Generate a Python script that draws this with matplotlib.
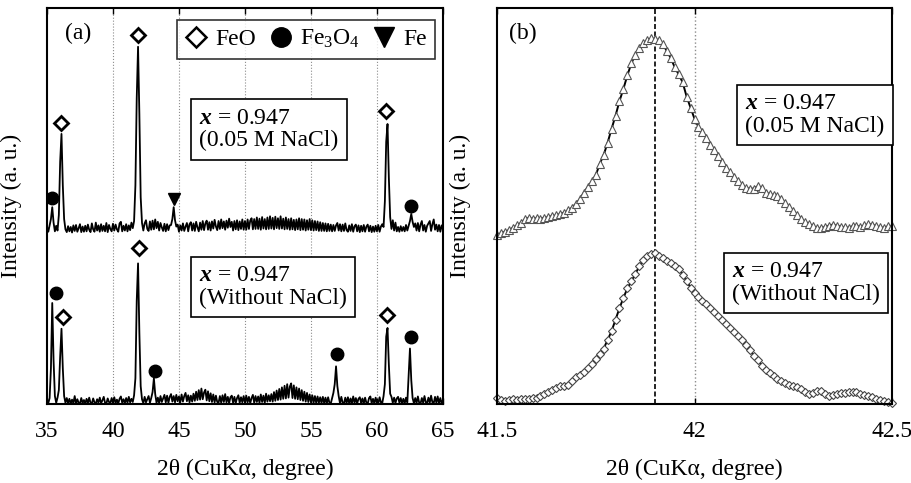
import numpy as np
import matplotlib
matplotlib.use("Agg")
import matplotlib.pyplot as plt
from matplotlib.lines import Line2D

plt.rcParams['font.family'] = ['Liberation Serif', 'DejaVu Serif']
plt.rcParams['mathtext.fontset'] = 'custom'
plt.rcParams['mathtext.rm'] = 'Liberation Serif'
plt.rcParams['mathtext.it'] = 'Liberation Serif:italic'
plt.rcParams['mathtext.bf'] = 'Liberation Serif:bold'
try:
    plt.rcParams['mathtext.bfit'] = 'Liberation Serif:italic:bold'
    x_label = r'$\mathbfit{x}$ = 0.947'
except KeyError:
    x_label = r'$\mathit{x}$ = 0.947'

# (a) wide scan, 35-65 deg, step 0.1 deg (intensities relative to own baseline)
two_theta_a = np.round(np.arange(35.0, 65.05, 0.1), 1)

nacl_a = [
    1.6, 0.3, 1.9, 3.5, 6.5, 2.6, 0.4, 1.8, 0.6, 4.5,
    18.0, 25.0, 12.0, 3.5, 0.9, 0.2, 1.7, 0.4, 1.5, 0.1,
    1.9, 0.5, 2.0, 0.3, 1.2, 2.2, 0.2, 1.6, 0.3, 1.8,
    0.4, 2.1, 0.8, 0.2, 2.4, 0.9, 0.3, 2.6, 0.6, 1.9,
    0.3, 2.2, 0.5, 1.8, 0.4, 2.5, 0.2, 2.0, 1.0, 0.4,
    2.3, 0.6, 2.1, 0.9, 0.3, 2.4, 2.8, 0.4, 1.8, 0.6,
    2.2, 0.4, 1.9, 0.7, 2.6, 1.2, 3.0, 12.0, 34.0, 47.0,
    30.0, 9.0, 2.5, 0.6, 2.4, 3.2, 1.0, 0.5, 2.9, 0.8,
    3.1, 0.9, 3.4, 1.2, 2.8, 0.6, 2.5, 1.4, 0.5, 2.3,
    0.4, 2.2, 0.7, 1.9, 2.0, 3.5, 6.5, 3.2, 1.6, 2.1,
    0.3, 1.9, 0.6, 2.4, 0.5, 1.6, 2.5, 0.4, 2.2, 2.7,
    0.6, 2.4, 0.5, 2.8, 1.4, 0.4, 2.6, 0.8, 3.0, 0.7,
    2.4, 3.1, 0.8, 2.7, 0.6, 2.9, 1.1, 3.3, 1.6, 0.7,
    3.0, 1.0, 3.4, 1.2, 2.9, 0.8, 3.1, 1.3, 3.6, 1.5,
    2.8, 0.6, 3.0, 0.9, 3.2, 0.7, 2.9, 1.0, 3.4, 0.8,
    3.0, 0.8, 3.4, 1.0, 3.1, 3.7, 0.9, 3.5, 1.0, 3.9,
    1.0, 3.6, 0.8, 4.0, 1.1, 3.5, 0.9, 3.9, 1.0, 4.2,
    1.1, 3.8, 0.9, 4.1, 1.2, 3.7, 1.0, 4.2, 1.1, 3.6,
    0.9, 3.9, 1.0, 3.5, 0.8, 3.7, 0.9, 3.3, 0.7, 3.4,
    0.9, 3.7, 0.7, 3.5, 0.8, 3.4, 0.6, 3.2, 0.8, 3.5,
    0.7, 3.2, 0.6, 3.0, 0.7, 2.9, 0.5, 2.7, 0.5, 2.5,
    0.5, 2.4, 0.4, 2.3, 0.5, 2.1, 0.4, 2.0, 0.5, 1.9,
    2.5, 0.6, 2.2, 0.4, 2.1, 0.5, 2.4, 0.7, 0.3, 1.9,
    0.5, 2.2, 0.3, 1.7, 2.1, 0.4, 1.9, 0.2, 1.8, 0.4,
    2.0, 0.3, 1.6, 2.1, 0.4, 1.8, 0.2, 1.6, 0.3, 1.8,
    0.4, 2.0, 0.3, 1.6, 2.2, 1.5, 8.0, 23.0, 27.5, 14.0,
    4.0, 1.0, 3.2, 0.6, 2.6, 0.4, 1.5, 0.3, 1.7, 0.5,
    1.5, 0.4, 2.0, 0.6, 1.8, 3.0, 4.8, 2.8, 1.5, 2.4,
    0.6, 2.5, 0.4, 2.1, 3.0, 0.6, 2.0, 0.3, 1.8, 2.4,
    3.0, 0.5, 2.2, 3.4, 0.8, 2.1, 0.4, 2.0, 0.3, 1.9,
    0.8,
]

plain_a = [
    1.2, 0.2, 1.5, 9.0, 25.5, 11.0, 2.0, 0.3, 1.6, 3.5,
    12.0, 19.0, 9.0, 2.0, 0.3, 1.5, 0.2, 1.3, 0.1, 1.1,
    0.2, 2.0, 0.1, 1.2, 0.3, 0.1, 1.5, 0.2, 1.0, 0.1,
    1.3, 0.2, 1.6, 0.3, 0.1, 1.4, 0.4, 0.1, 1.2, 0.3,
    1.6, 0.2, 0.9, 1.8, 0.3, 0.1, 1.4, 0.5, 0.2, 1.5,
    0.3, 1.7, 0.2, 1.1, 0.1, 1.3, 1.9, 0.3, 1.2, 0.2,
    1.5, 0.3, 1.8, 0.4, 1.3, 0.5, 2.2, 6.5, 26.0, 35.5,
    18.0, 4.5, 1.2, 0.2, 1.8, 0.4, 1.2, 2.0, 0.3, 1.5,
    3.0, 6.5, 2.5, 0.3, 1.6, 0.2, 2.0, 0.5, 1.4, 2.3,
    0.4, 2.1, 0.3, 1.8, 2.5, 0.6, 2.0, 0.4, 2.3, 0.7,
    1.9, 0.4, 2.4, 0.6, 2.0, 2.8, 0.7, 2.2, 0.4, 2.1,
    0.6, 2.6, 0.8, 3.1, 1.0, 3.5, 1.1, 3.9, 1.2, 2.9,
    3.6, 0.9, 3.2, 0.7, 2.7, 0.5, 2.4, 0.4, 2.1, 0.5,
    0.3, 2.0, 0.3, 2.2, 0.5, 2.5, 0.4, 1.8, 0.2, 1.7,
    2.1, 0.3, 1.8, 0.2, 1.5, 2.2, 0.3, 1.7, 0.4, 2.0,
    0.3, 2.1, 0.4, 1.8, 0.2, 1.5, 2.3, 0.3, 2.0, 0.5,
    1.9, 0.3, 2.4, 0.5, 2.1, 0.3, 2.6, 0.6, 2.2, 0.7,
    2.5, 0.6, 3.0, 0.8, 3.4, 1.0, 3.8, 1.1, 4.2, 1.3,
    4.6, 1.4, 5.0, 1.6, 4.4, 5.2, 1.5, 4.7, 1.3, 4.2,
    1.2, 3.9, 1.0, 3.5, 0.8, 3.1, 0.6, 2.8, 0.5, 2.4,
    0.4, 2.2, 0.3, 2.0, 0.2, 1.9, 0.3, 1.7, 0.2, 1.8,
    0.2, 1.6, 0.1, 1.7, 0.3, 0.1, 1.4, 2.8, 5.0, 9.5,
    4.5, 2.0, 0.2, 1.8, 0.3, 0.1, 1.6, 0.2, 1.7, 0.1,
    1.4, 0.1, 1.9, 0.3, 1.5, 0.1, 1.3, 1.7, 0.2, 1.4,
    0.1, 1.6, 0.3, 0.1, 1.5, 1.9, 0.2, 1.3, 0.1, 1.6,
    0.3, 0.1, 1.7, 0.4, 0.2, 2.0, 5.0, 17.0, 19.2, 10.0,
    2.6, 1.8, 0.3, 1.6, 0.2, 1.4, 1.8, 0.3, 1.5, 0.2,
    1.3, 0.1, 1.6, 0.4, 7.0, 14.0, 6.0, 1.5, 0.2, 1.5,
    0.2, 1.9, 0.3, 0.1, 1.5, 0.3, 2.0, 0.4, 0.2, 1.6,
    0.3, 2.1, 0.4, 0.2, 1.8, 0.3, 1.9, 0.1, 1.5, 0.2,
    1.0,
]
nacl_shift = 43.2

# phase markers of (a)
feo_x = [36.06, 41.87, 60.72, 36.24, 41.97, 60.73]
feo_y = [71.0, 93.2, 74.0, 22.0, 39.4, 22.5]
fe3o4_x = [35.40, 62.55, 35.66, 43.20, 56.97, 62.55]
fe3o4_y = [52.0, 50.0, 28.0, 8.3, 12.6, 17.0]
fe_x = [44.6]
fe_y = [51.8]

# (b) FeO (200) peak, step 0.01 deg
two_theta_b = np.round(np.arange(41.50, 42.505, 0.01), 2)

nacl_b = [
    42.7, 43.1, 43.5, 43.9, 44.5, 45.1, 45.7, 46.6, 47.0, 46.8,
    46.9, 46.8, 47.0, 47.2, 47.5, 47.6, 48.0, 48.3, 48.9, 49.6,
    50.6, 51.8, 53.4, 54.8, 56.2, 57.8, 60.6, 62.9, 66.0, 69.5,
    72.8, 76.5, 79.6, 83.0, 86.0, 88.2, 89.9, 91.1, 91.9, 92.3,
    92.2, 91.8, 90.8, 89.1, 87.3, 85.0, 83.2, 81.2, 77.6, 74.8,
    72.0, 70.0, 68.8, 67.2, 65.5, 64.1, 62.5, 61.0, 59.7, 58.5,
    57.4, 56.3, 55.2, 54.6, 54.3, 54.4, 55.0, 54.6, 53.4, 53.0,
    52.8, 52.6, 51.8, 50.8, 49.7, 48.8, 47.8, 46.8, 46.0, 45.4,
    45.0, 44.4, 44.4, 44.7, 45.0, 45.3, 45.0, 44.8, 44.6, 44.5,
    44.9, 45.0, 44.7, 45.1, 45.4, 45.3, 44.9, 44.6, 44.5, 44.9,
    45.0,
]

plain_b = [
    1.4, 1.0, 0.8, 1.0, 1.2, 1.1, 1.3, 1.2, 1.3, 1.4,
    1.6, 2.0, 2.5, 3.1, 3.6, 4.1, 4.5, 4.6, 4.9, 5.8,
    6.8, 7.4, 8.0, 9.0, 10.2, 11.3, 12.6, 14.0, 16.2, 18.4,
    21.3, 24.2, 26.8, 29.2, 31.0, 32.8, 34.8, 36.4, 37.3, 37.9,
    38.0, 37.4, 36.8, 36.1, 35.6, 34.9, 34.1, 32.6, 31.0, 29.4,
    27.9, 27.0, 26.1, 25.2, 24.2, 23.3, 22.2, 21.1, 20.2, 19.2,
    18.2, 17.2, 16.2, 14.9, 13.6, 12.2, 11.2, 9.7, 8.6, 7.8,
    7.1, 6.4, 5.9, 5.4, 4.9, 4.6, 4.3, 3.8, 3.1, 2.6,
    2.7, 3.3, 3.2, 2.5, 2.0, 2.2, 2.5, 2.7, 2.8, 2.9,
    3.1, 2.9, 2.5, 2.2, 2.1, 1.8, 1.3, 1.0, 0.7, 0.4,
    0.2,
]

fig = plt.figure(figsize=(9.12, 4.83), dpi=100)
ax1 = fig.add_axes([0.0515, 0.1636, 0.4342, 0.8199])
ax2 = fig.add_axes([0.545, 0.1636, 0.4331, 0.8199])

fs = 17

# ---- panel (a)
for g in [40, 45, 50, 55, 60]:
    ax1.axvline(g, color='#8c8c8c', lw=0.8, ls=':', zorder=0)
ax1.plot(two_theta_a, np.array(nacl_a) + nacl_shift, color='black', lw=1.3)
ax1.plot(two_theta_a, plain_a, color='black', lw=1.3)
ax1.plot(feo_x, feo_y, ls='none', marker='D', ms=7.5, mfc='white', mec='black', mew=2)
ax1.plot(fe3o4_x, fe3o4_y, ls='none', marker='o', ms=9, mfc='black', mec='black')
ax1.plot(fe_x, fe_y, ls='none', marker='v', ms=9, mfc='black', mec='black')

handles = [
    Line2D([], [], ls='none', marker='D', ms=10, mfc='white', mec='black', mew=1.8),
    Line2D([], [], ls='none', marker='o', ms=14, mfc='black', mec='black'),
    Line2D([], [], ls='none', marker='v', ms=14, mfc='black', mec='black'),
]
leg = ax1.legend(handles, ['FeO', 'Fe$_3$O$_4$', 'Fe'], ncol=3, loc='upper right',
                 bbox_to_anchor=(0.98, 0.97), fontsize=17, frameon=True, fancybox=False,
                 handlelength=0.9, handletextpad=0.35, columnspacing=0.6,
                 borderpad=0.35, borderaxespad=0)
leg.get_frame().set_edgecolor('black')
leg.get_frame().set_linewidth(1.2)

box = dict(boxstyle='square,pad=0.35', fc='white', ec='black', lw=1.2)
ax1.text(0.384, 0.693, x_label + '\n(0.05 M NaCl)', transform=ax1.transAxes,
         fontsize=fs, ha='left', va='center', bbox=box, linespacing=1.1)
ax1.text(0.384, 0.295, x_label + '\n(Without NaCl)', transform=ax1.transAxes,
         fontsize=fs, ha='left', va='center', bbox=box, linespacing=1.1)
ax1.text(0.045, 0.935, '(a)', transform=ax1.transAxes, fontsize=fs, ha='left', va='center')

ax1.set_xlim(35, 65)
ax1.set_ylim(0, 100)
ax1.set_xticks([35, 40, 45, 50, 55, 60, 65])

# ---- panel (b)
ax2.axvline(41.9, color='black', lw=1.2, ls=(0, (3, 1.5)), zorder=0)
ax2.axvline(42.0, color='#8c8c8c', lw=1.0, ls=':', zorder=0)
ax2.plot(two_theta_b, nacl_b, color='black', lw=1.4, marker='^', ms=5.5,
         mfc='white', mec='#555555', mew=0.8, clip_on=False)
ax2.plot(two_theta_b, plain_b, color='black', lw=1.4, marker='D', ms=4,
         mfc='white', mec='#444444', mew=0.8, clip_on=False)

ax2.text(0.628, 0.730, x_label + '\n(0.05 M NaCl)', transform=ax2.transAxes,
         fontsize=fs, ha='left', va='center', bbox=box, linespacing=1.1)
ax2.text(0.595, 0.306, x_label + '\n(Without NaCl)', transform=ax2.transAxes,
         fontsize=fs, ha='left', va='center', bbox=box, linespacing=1.1)
ax2.text(0.03, 0.935, '(b)', transform=ax2.transAxes, fontsize=fs, ha='left', va='center')

ax2.set_xlim(41.5, 42.5)
ax2.set_ylim(0, 100)
ax2.set_xticks([41.5, 42.0, 42.5])
ax2.set_xticklabels(['41.5', '42', '42.5'])

for ax in (ax1, ax2):
    ax.set_yticks([])
    ax.tick_params(axis='x', direction='in', length=4, width=1, top=True,
                   labelsize=fs, pad=12)
    for s in ax.spines.values():
        s.set_linewidth(1.5)
    ax.set_xlabel('2θ (CuKα, degree)', fontsize=fs, labelpad=12)
    ax.set_ylabel('Intensity (a. u.)', fontsize=fs)
ax1.yaxis.set_label_coords(-0.063, 0.5)
ax2.yaxis.set_label_coords(-0.066, 0.5)

fig.savefig('out.png', dpi=100)
